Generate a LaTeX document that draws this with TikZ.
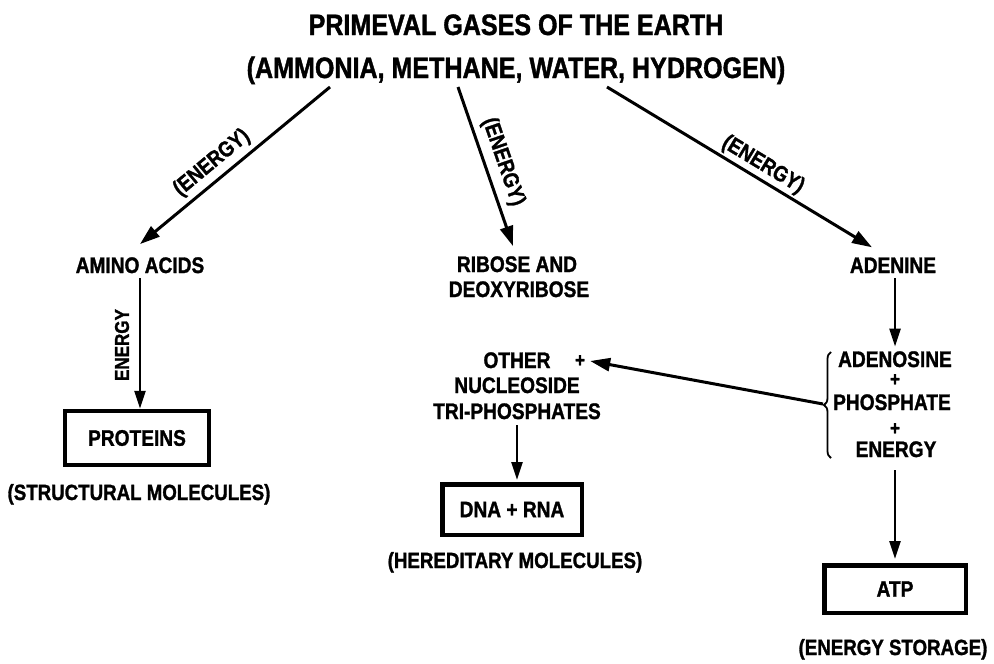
\documentclass[tikz,border=0pt]{standalone}
\usepackage{fontspec}
\setmainfont{Liberation Sans}[FakeStretch=0.85, BoldFeatures={FakeBold=1.3}]
\usetikzlibrary{arrows.meta,decorations.pathreplacing,calc}
\begin{document}
\begin{tikzpicture}[x=1pt,y=-1pt,
  lbl/.style={font=\bfseries\fontsize{22.5}{22.5}\selectfont, inner sep=0pt, anchor=base},
  ttl/.style={font=\bfseries\fontsize{29.5}{29.5}\selectfont, inner sep=0pt, anchor=base},
  capt/.style={font=\bfseries\fontsize{22}{22}\selectfont, inner sep=0pt, anchor=base},
  elbl/.style={font=\bfseries\fontsize{22}{22}\selectfont, inner sep=0pt, anchor=center},
  pl/.style={font=\bfseries\fontsize{20}{20}\selectfont, inner sep=0pt},
  box/.style={draw, line width=4.5pt, inner sep=0pt, font=\bfseries\fontsize{22.5}{22.5}\selectfont},
  arr/.style={line width=2.6pt, -{Triangle[length=18pt,width=11pt]}},
  darr/.style={line width=3pt, -{Triangle[length=20pt,width=13pt]}},
]
\useasboundingbox (0,0) rectangle (994,664);

% title
\node[ttl] (t1) at (516,35) {PRIMEVAL GASES OF THE EARTH};
\node[ttl] (t2) at (516,78) {(AMMONIA, METHANE, WATER, HYDROGEN)};
\coordinate (g1) at (330,87);
\coordinate (g2) at (458,87);
\coordinate (g3) at (607,87);

% second row
\node[lbl] (aa) at (140,273) {AMINO ACIDS};
\node[lbl] (rib1) at (517,272) {RIBOSE AND};
\node[lbl] (rib2) at (519,297) {DEOXYRIBOSE};
\node[lbl] (aden) at (893,273) {ADENINE};

% diagonal arrows
\draw[darr] (g1) -- ([yshift=13pt]aa.north);
\draw[darr] (g2) -- ([xshift=-4pt,yshift=10pt]rib1.north);
\draw[darr] (g3) -- ([xshift=-21pt,yshift=10pt]aden.north);
\node[elbl, rotate=39.7] (e1) at (212,163) {(ENERGY)};
\node[elbl, rotate=-71] (e2) at (503,162) {(ENERGY)};
\node[elbl, rotate=-31.1] (e3) at (763,165) {(ENERGY)};

% left column
\node[box, minimum width=144pt, minimum height=54pt] (prot) at (137,438) {PROTEINS};
\draw[arr] ([yshift=-5pt]aa.south) -- (aa.south |- prot.north);
\node[lbl, font=\bfseries\fontsize{20}{20}\selectfont, rotate=90, anchor=center] (en1) at (122,345) {ENERGY};
\node[capt] (sm) at (139,500) {(STRUCTURAL MOLECULES)};

% middle column
\node[lbl] (oth) at (517,368) {OTHER};
\node[pl] (plus0) at (580,361) {+};
\node[lbl] (nuc) at (517,393) {NUCLEOSIDE};
\node[lbl] (tri) at (517,419) {TRI-PHOSPHATES};
\node[box, minimum width=139.5pt, minimum height=50.5pt] (dna) at (512,509.5) {DNA + RNA};
\draw[arr] ([yshift=-6pt]tri.south) -- ([yshift=2pt]tri.south |- dna.north);
\node[capt] (her) at (515,568) {(HEREDITARY MOLECULES)};

% right column
\node[lbl] (adns) at (895,367) {ADENOSINE};
\node[pl] (p1) at (895,380) {+};
\node[lbl] (phos) at (892,410) {PHOSPHATE};
\node[pl] (p2) at (895,429) {+};
\node[lbl] (en3) at (896,457) {ENERGY};
\draw[arr] ([yshift=-5pt]aden.south -| adns.north) -- ([yshift=4.5pt]adns.north);
\node[box, minimum width=141.5pt, minimum height=47.5pt] (atp) at (895,589) {ATP};
\draw[arr] ([yshift=-13pt]en3.south -| atp.north) -- ([yshift=4pt]atp.north);
\node[capt] (es) at (893,655) {(ENERGY STORAGE)};

% brace and feedback arrow
\coordinate (br1) at (831,458);
\coordinate (br2) at (831,352);
\draw[line width=1.8pt, decorate, decoration={brace, amplitude=7pt}] (br1) -- (br2);
\coordinate (bt) at (823,404);
\draw[darr] (bt) -- ([xshift=5pt]plus0.east);
\end{tikzpicture}
\end{document}
